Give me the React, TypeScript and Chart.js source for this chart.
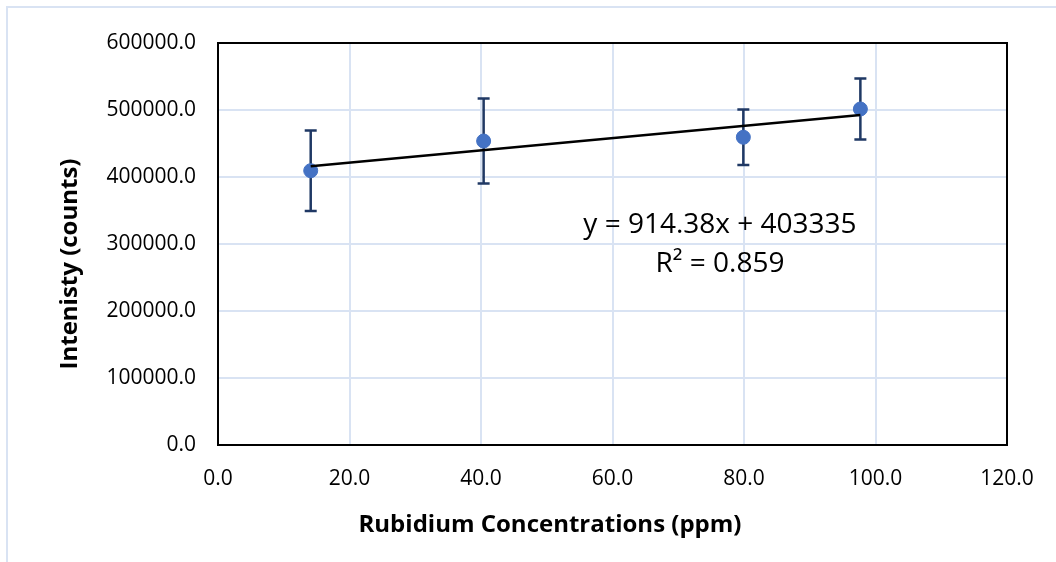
import React, { useEffect, useRef } from "react";
import { Chart, registerables } from "chart.js";

Chart.register(...registerables);

// ---- data ----
const concentrations = [14.1, 40.4, 79.9, 97.7];
const intensities = [409400, 453700, 459300, 501500];
const intensityErrors = [60000, 63500, 41500, 45500];
const trendX = [14.1, 97.7];
const trendY = [416200, 492700];
const equationLines = ["y = 914.38x + 403335", "R\u00B2 = 0.859"];
const xTitle = "Rubidium Concentrations (ppm)";
const yTitle = "Intenisty (counts)";
const xMin = 0, xMax = 120, xStep = 20;
const yMin = 0, yMax = 600000, yStep = 100000;

const FONT = "'Open Sans', sans-serif";
const GRID = "#d9e3f3";

export default function App() {
  const ref = useRef<HTMLCanvasElement | null>(null);

  useEffect(() => {
    const canvas = ref.current;
    if (!canvas) return;

    const errorBars = {
      id: "errorBars",
      beforeDatasetsDraw(chart: any) {
        const ctx = chart.ctx;
        const xs = chart.scales.x;
        const ys = chart.scales.y;
        ctx.save();
        ctx.strokeStyle = "#1f3864";
        ctx.lineWidth = 2.5;
        concentrations.forEach((xv, i) => {
          const px = xs.getPixelForValue(xv);
          const top = ys.getPixelForValue(intensities[i] + intensityErrors[i]);
          const bot = ys.getPixelForValue(intensities[i] - intensityErrors[i]);
          ctx.beginPath();
          ctx.moveTo(px, top);
          ctx.lineTo(px, bot);
          ctx.moveTo(px - 6, top);
          ctx.lineTo(px + 6, top);
          ctx.moveTo(px - 6, bot);
          ctx.lineTo(px + 6, bot);
          ctx.stroke();
        });
        ctx.restore();
      },
    };

    const decorations = {
      id: "decorations",
      beforeDatasetsDraw(chart: any) {
        const ctx = chart.ctx;
        const a = chart.chartArea;
        ctx.save();
        ctx.strokeStyle = "#000";
        ctx.lineWidth = 2;
        ctx.strokeRect(a.left, a.top, a.right - a.left, a.bottom - a.top);
        ctx.restore();
      },
      afterDraw(chart: any) {
        const ctx = chart.ctx;
        ctx.save();
        ctx.fillStyle = "#000";
        ctx.textAlign = "center";
        ctx.textBaseline = "middle";
        ctx.font = `28px ${FONT}`;
        ctx.fillText(equationLines[0], 720, 225);
        ctx.fillText(equationLines[1], 720, 264);
        ctx.font = `bold 24px ${FONT}`;
        ctx.fillText(xTitle, 550, 525);
        ctx.translate(70, 264);
        ctx.rotate(-Math.PI / 2);
        ctx.fillText(yTitle, 0, 0);
        ctx.restore();
      },
    };

    const chart = new Chart(canvas, {
      type: "scatter",
      data: {
        datasets: [
          {
            type: "line",
            label: "Trend",
            data: trendX.map((x, i) => ({ x, y: trendY[i] })),
            borderColor: "#000",
            borderWidth: 2.5,
            pointRadius: 0,
            showLine: true,
            fill: false,
          },
          {
            type: "scatter",
            label: "Intensity",
            data: concentrations.map((x, i) => ({ x, y: intensities[i] })),
            backgroundColor: "#4472c4",
            borderColor: "#4472c4",
            pointRadius: 7,
            pointStyle: "circle",
          },
        ],
      },
      options: {
        responsive: false,
        animation: false,
        layout: { padding: { top: 43, right: 49, left: 0, bottom: 0 } },
        plugins: {
          legend: { display: false },
          tooltip: { enabled: false },
        },
        scales: {
          x: {
            type: "linear",
            min: xMin,
            max: xMax,
            ticks: {
              stepSize: xStep,
              padding: 21,
              color: "#000",
              font: { family: FONT, size: 21 },
              callback: (v: any) => Number(v).toFixed(1),
              maxRotation: 0,
            },
            grid: { color: GRID, lineWidth: 2, drawTicks: false },
            border: { display: false },
            afterFit(scale: any) {
              scale.height = 117;
            },
          },
          y: {
            type: "linear",
            min: yMin,
            max: yMax,
            ticks: {
              stepSize: yStep,
              padding: 22,
              color: "#000",
              font: { family: FONT, size: 21 },
              callback: (v: any) => Number(v).toFixed(1),
            },
            grid: { color: GRID, lineWidth: 2, drawTicks: false },
            border: { display: false },
            afterFit(scale: any) {
              scale.width = 218;
            },
          },
        },
      },
      plugins: [errorBars, decorations],
    });

    return () => chart.destroy();
  }, []);

  return (
    <div style={{ position: "fixed", left: 0, top: 0, width: 1056, height: 562, background: "#fff", overflow: "hidden" }}>
      <div
        style={{
          position: "absolute",
          left: 6,
          top: 6,
          width: 1200,
          height: 700,
          border: `2px solid ${GRID}`,
        }}
      />
      <canvas ref={ref} width={1056} height={562} style={{ position: "absolute", left: 0, top: 0, display: "block" }} />
    </div>
  );
}
